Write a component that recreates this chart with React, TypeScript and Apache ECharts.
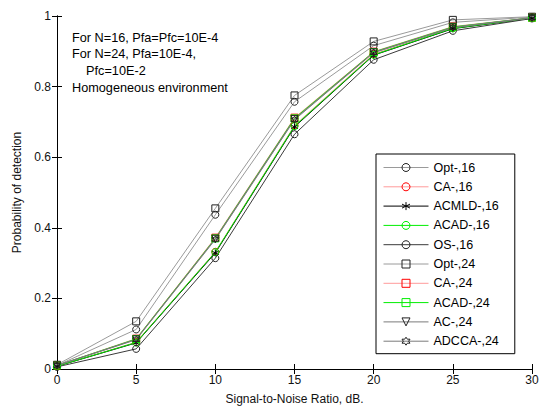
import React, { useEffect, useRef } from "react";
import * as echarts from "echarts";

const snr = [0, 5, 10, 15, 20, 25, 30];
const opt16 = [0.010, 0.112, 0.437, 0.757, 0.916, 0.982, 0.997];
const ca16 = [0.008, 0.076, 0.332, 0.690, 0.892, 0.966, 0.994];
const acmld16 = [0.008, 0.074, 0.329, 0.686, 0.889, 0.964, 0.994];
const acad16 = [0.008, 0.075, 0.331, 0.688, 0.890, 0.965, 0.994];
const os16 = [0.006, 0.057, 0.314, 0.665, 0.876, 0.958, 0.993];
const opt24 = [0.012, 0.135, 0.455, 0.775, 0.928, 0.989, 0.998];
const ca24 = [0.010, 0.086, 0.372, 0.712, 0.899, 0.970, 0.995];
const acad24 = [0.010, 0.085, 0.370, 0.710, 0.898, 0.969, 0.995];
const ac24 = [0.010, 0.084, 0.369, 0.708, 0.897, 0.968, 0.995];
const adcca24 = [0.010, 0.083, 0.367, 0.706, 0.896, 0.967, 0.995];

const xTicks = [0, 5, 10, 15, 20, 25, 30];

const notes = [
  "For N=16, Pfa=Pfc=10E-4",
  "For N=24, Pfa=10E-4,",
  "    Pfc=10E-2",
  "Homogeneous environment",
];

const FONT = "'Liberation Sans', Arial, sans-serif";

const starPath = "path://M0,-5L0,5M-4.33,-2.5L4.33,2.5M-4.33,2.5L4.33,-2.5";
const hexPath =
  "path://M0,-5L1.44,-2.5L4.33,-2.5L2.89,0L4.33,2.5L1.44,2.5L0,5L-1.44,2.5L-4.33,2.5L-2.89,0L-4.33,-2.5L-1.44,-2.5Z";
const triDown = "path://M-4,-3L4,-3L0,4Z";

type Def = {
  name: string;
  data: number[];
  line: string;
  mark: string;
  symbol: string;
  size: number;
};

const defs: Def[] = [
  { name: "Opt-,16", data: opt16, line: "#9a9a9a", mark: "#222", symbol: "circle", size: 7 },
  { name: "CA-,16", data: ca16, line: "#ff9a9a", mark: "#ff0000", symbol: "circle", size: 7 },
  { name: "ACMLD-,16", data: acmld16, line: "#000000", mark: "#000000", symbol: starPath, size: 7 },
  { name: "ACAD-,16", data: acad16, line: "#00ee00", mark: "#00ee00", symbol: "circle", size: 7 },
  { name: "OS-,16", data: os16, line: "#3a3a3a", mark: "#222", symbol: "circle", size: 7 },
  { name: "Opt-,24", data: opt24, line: "#9a9a9a", mark: "#222", symbol: "rect", size: 7 },
  { name: "CA-,24", data: ca24, line: "#ff9a9a", mark: "#ff0000", symbol: "rect", size: 7 },
  { name: "ACAD-,24", data: acad24, line: "#00ee00", mark: "#00ee00", symbol: "rect", size: 7 },
  { name: "AC-,24", data: ac24, line: "#7a7a7a", mark: "#222", symbol: triDown, size: 7 },
  { name: "ADCCA-,24", data: adcca24, line: "#7a7a7a", mark: "#222", symbol: hexPath, size: 7 },
];

export default function App() {
  const ref = useRef<HTMLDivElement>(null);
  useEffect(() => {
    if (!ref.current) return;
    const chart = echarts.init(ref.current, null, { renderer: "svg" });
    const series = defs.map((d) => ({
      name: d.name,
      type: "line",
      data: d.data.map((v, i) => [snr[i], v]),
      symbol: d.symbol,
      symbolSize: d.size,
      showAllSymbol: true,
      lineStyle: { color: d.line, width: 1 },
      itemStyle: { color: "rgba(255,255,255,0)", borderColor: d.mark, borderWidth: 1 },
      emphasis: { disabled: true },
    }));
    const axisCommon = {
      axisLine: { show: true, lineStyle: { color: "#000", width: 1 } },
      axisTick: { show: true, inside: true, length: 5, lineStyle: { color: "#000" } },
      splitLine: { show: false },
    };
    chart.setOption({
      animation: false,
      textStyle: { fontFamily: FONT },
      grid: { left: 57, right: 10, top: 16, bottom: 38, containLabel: false },
      xAxis: [
        {
          type: "value",
          min: 0,
          max: 30,
          interval: 5,
          ...axisCommon,
          axisLabel: { color: "#111", fontSize: 12, margin: 5, fontFamily: FONT,
            customValues: xTicks },
          name: "Signal-to-Noise Ratio, dB.",
          nameLocation: "middle",
          nameGap: 24,
          nameTextStyle: { color: "#111", fontSize: 12, fontFamily: FONT },
        },
        {
          type: "value",
          position: "top",
          min: 0,
          max: 30,
          interval: 5,
          ...axisCommon,
          axisLabel: { show: false },
        },
      ],
      yAxis: [
        {
          type: "value",
          min: 0,
          max: 1,
          interval: 0.2,
          ...axisCommon,
          axisLabel: { color: "#111", fontSize: 12, margin: 6, fontFamily: FONT },
          name: "Probability of detection",
          nameLocation: "middle",
          nameGap: 32,
          nameTextStyle: { color: "#111", fontSize: 12, fontFamily: FONT },
        },
        {
          type: "value",
          position: "right",
          min: 0,
          max: 1,
          interval: 0.2,
          ...axisCommon,
          axisLabel: { show: false },
        },
      ],
      legend: {
        orient: "vertical",
        left: 376,
        top: 154,
        backgroundColor: "#fff",
        borderColor: "#000",
        borderWidth: 1,
        borderRadius: 0,
        padding: [7, 16, 6, 7],
        itemWidth: 45,
        itemHeight: 10,
        itemGap: 6.3,
        itemStyle: { borderWidth: 1 },
        lineStyle: { width: 1 },
        textStyle: { color: "#000", fontSize: 12.5, lineHeight: 13, fontFamily: FONT },
        selectedMode: false,
        data: defs.map((d) => d.name),
      },
      graphic: notes.map((t, i) => ({
        type: "text",
        left: 72,
        top: 31 + i * 16.7,
        style: { text: t, fill: "#000", font: `12.7px ${FONT}` },
      })),
      series,
    });
    return () => chart.dispose();
  }, []);
  return (
    <div
      ref={ref}
      style={{ position: "fixed", left: 0, top: 0, width: 542, height: 410, background: "#fff" }}
    />
  );
}
